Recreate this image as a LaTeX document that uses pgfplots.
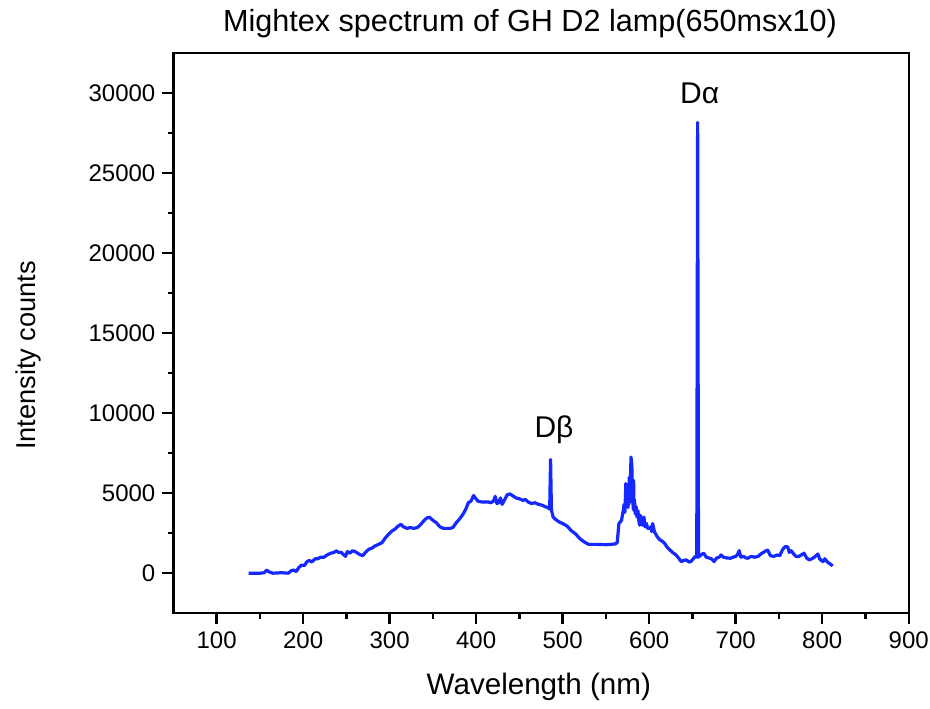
\documentclass[border=0pt]{standalone}
\usepackage{fontspec}
\setmainfont{Liberation Sans}
\usepackage{pgfplots}
\pgfplotsset{compat=1.18}
\definecolor{specblue}{RGB}{20,40,255}
\begin{document}
\begin{tikzpicture}
\useasboundingbox (-86.7pt,-47.85pt) rectangle (378.35pt,306.65pt);
\begin{axis}[
  scale only axis,
  width=367.7pt, height=280.3pt,
  xmin=50, xmax=900, ymin=-2500, ymax=32500,
  xtick={100,200,...,900},
  ytick={0,5000,...,30000},
  minor x tick num=1, minor y tick num=1,
  xtick pos=bottom, ytick pos=left,
  tick align=outside,
  major tick length=5.5pt, minor tick length=2.7pt,
  axis line style={line width=1.2pt},
  every tick/.style={line width=1.2pt, black},
  /pgf/number format/assume math mode=true,
  scaled y ticks=false,
  yticklabel style={/pgf/number format/1000 sep={}, font=\fontsize{12}{14}\selectfont},
  xticklabel style={font=\fontsize{12}{14}\selectfont},
  xlabel={Wavelength (nm)},
  ylabel={Intensity counts},
  xlabel style={font=\fontsize{14.8}{17}\selectfont, at={(axis description cs:0.497,-0.1457)}, anchor=base},
  ylabel style={font=\fontsize{13.6}{16}\selectfont, at={(axis description cs:-0.1975,0.46)}, anchor=center, rotate=0},
  clip=false,
]
\addplot[specblue, line width=1.6pt, line join=round] coordinates {
(137,0) (150,0) (155,30) (158,200) (160,100) (165,0) (175,30) (183,0)
(186,150) (189,200) (192,100) (195,350) (198,500) (202,500) (204,700)
(207,800) (210,700) (214,900) (217,900) (220,1000) (224,1000) (228,1150)
(232,1250) (236,1300) (238,1400) (241,1300) (244,1300) (247,1150) (249,1050)
(251,1350) (254,1250) (257,1400) (260,1350) (263,1250) (266,1150) (269,1100)
(272,1300) (276,1500) (279,1550) (283,1700) (287,1800) (291,1900) (295,2200)
(299,2450) (303,2650) (306,2750) (310,2950) (313,3050) (316,2900) (320,2800)
(324,2850) (328,2800) (332,2850) (336,3050) (340,3300) (343,3450) (346,3500)
(350,3300) (354,3150) (358,2900) (362,2800) (366,2800) (370,2800) (373,2850)
(377,3150) (381,3400) (385,3700) (388,4000) (391,4400) (394,4500) (397,4850)
(399,4700) (402,4500) (406,4450) (410,4450) (414,4450) (417,4400) (420,4500)
(422,4800) (424,4350) (426,4400) (428,4700) (430,4300) (433,4600) (436,4900)
(439,4950) (442,4850) (446,4700) (450,4650) (454,4550) (457,4600) (460,4450)
(464,4350) (468,4400) (472,4300) (476,4250) (480,4150) (483,4100) (485,4000)
(486,7100) (487,3950) (489,3500) (492,3350) (496,3200) (500,3100) (505,2950)
(510,2650) (515,2450) (520,2150) (525,1950) (530,1800) (540,1800) (550,1780)
(560,1820) (563,1900) (565,3100) (568,3300) (570,3900) (571,4300) (572,3800)
(573,5600) (574,4300) (575,5200) (575.5,4100) (576,5500) (576.5,4300) (577,6000)
(577.5,4600) (578,5100) (579,7250) (580,6700) (580.5,4400) (581,5200) (581.5,4000)
(582,5800) (582.5,3900) (583,4600) (584,3700) (585,4150) (586,3500) (587,3900)
(588,3300) (589,3000) (590,3600) (591,3400) (592,3000) (594,3500) (595,2900)
(597,3100) (598,2800) (600,2800) (602,2900) (603,2600) (604,3100) (606,2600)
(609,2300) (612,2100)
(615,2000) (618,1850) (621,1600) (624,1450) (627,1300) (631,1140) (634,950)
(637,720) (640,800) (643,830) (646,700) (648,720) (651,900) (653,1040)
(655,1000) (656,28150) (657,1000) (660,1150) (663,1250) (666,1000) (669,950)
(672,900) (675,725) (678,950) (681,1000) (683,1140) (686,1000) (690,950)
(694,935) (697,1000) (700,1050) (702,1150) (704,1410) (706,1000) (709,1050)
(712,950) (714,935) (718,1050) (722,1000) (726,1050) (729,1200) (732,1300)
(735,1400) (737,1450) (740,1100) (744,1050) (748,1140) (751,1100) (754,1450)
(757,1660) (760,1650) (762,1300) (764,1410) (767,1200) (770,1035) (773,1050)
(776,1150) (779,1250) (782,950) (785,830) (788,900) (791,1000) (795,1200)
(797,900) (799,800) (801,725) (803,900) (806,700) (808,620) (810,550)
(812,450)
};
\node[anchor=base, font=\fontsize{15}{17}\selectfont] at (axis cs:658.4,29300) {Dα};
\node[anchor=base, font=\fontsize{15}{17}\selectfont] at (axis cs:490,8500) {Dβ};
\node[anchor=base, font=\fontsize{15.3}{18}\selectfont] at (axis description cs:0.485,1.0375) {Mightex spectrum of GH D2 lamp(650msx10)};
\end{axis}
\end{tikzpicture}
\end{document}
